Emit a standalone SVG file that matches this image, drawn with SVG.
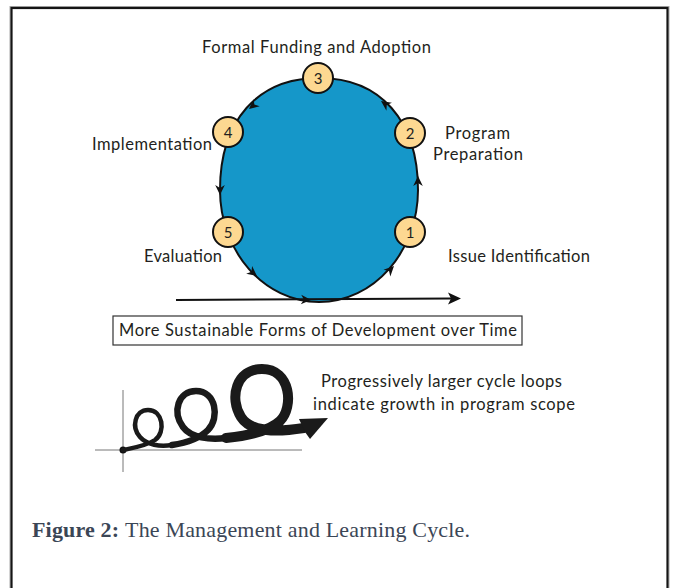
<svg xmlns="http://www.w3.org/2000/svg" xmlns:xlink="http://www.w3.org/1999/xlink" width="675" height="588" viewBox="0 0 675 588">
<style>
.lbl{font-family:Lato,"Open Sans","Liberation Sans",sans-serif;font-size:16.5px;fill:#231f20}
.num{font-family:Lato,"Open Sans","Liberation Sans",sans-serif;font-size:15px;fill:#231f20;text-anchor:middle}
.step{fill:#fdd891;stroke:#111;stroke-width:2}
.cap{font-family:"Liberation Serif",serif;font-size:22px;fill:#3b4656}
.curl{fill:none;stroke:#1a1a1a;stroke-linecap:round;stroke-linejoin:round}
</style>
<defs>
<path id="ah" d="M0,0 L-10,-4.8 L-7,0 L-10,4.8 Z" fill="#111"/>
</defs>
<rect width="675" height="588" fill="#fff"/>
<rect x="10" y="6.5" width="659" height="600" fill="none" stroke="#aaa" stroke-width="1"/>
<rect x="11.5" y="8" width="656" height="600" fill="none" stroke="#151515" stroke-width="2.2"/>

<g id="cycle">
<path d="M418,190 C418,120.6 380.4,78 319,78 C257.6,78 220,120.6 220,190 C220,251.6 264.3,302 319,302 C373.7,302 418,251.6 418,190 Z" fill="#1597c9" stroke="#111" stroke-width="2"/>
</g>

<g id="connectors">
<use xlink:href="#ah" transform="translate(418,176) rotate(-90)"/>
<use xlink:href="#ah" transform="translate(381,101) rotate(-145)"/>
<use xlink:href="#ah" transform="translate(249,109) rotate(140)"/>
<use xlink:href="#ah" transform="translate(220,195) rotate(90)"/>
<use xlink:href="#ah" transform="translate(257,276) rotate(38)"/>
<use xlink:href="#ah" transform="translate(311,300) rotate(3)"/>
<use xlink:href="#ah" transform="translate(394,266) rotate(-45)"/>
<line x1="176" y1="300" x2="452" y2="298.5" stroke="#111" stroke-width="2"/>
<path d="M461,298.5 L448,292.5 L451,298.5 L448,304.5 Z" fill="#111"/>
</g>

<g id="step3"><circle class="step" cx="318" cy="78" r="15"/><text class="num" x="318" y="83.5">3</text></g>
<g id="step4"><circle class="step" cx="228" cy="132" r="15"/><text class="num" x="228" y="137.5">4</text></g>
<g id="step2"><circle class="step" cx="410" cy="133" r="15"/><text class="num" x="410" y="138.5">2</text></g>
<g id="step5"><circle class="step" cx="228" cy="232" r="15"/><text class="num" x="228" y="237.5">5</text></g>
<g id="step1"><circle class="step" cx="410" cy="232" r="15"/><text class="num" x="410" y="237.5">1</text></g>

<g id="labels">
<text class="lbl" x="202" y="53" textLength="229">Formal Funding and Adoption</text>
<text class="lbl" x="92" y="150" textLength="120">Implementation</text>
<text class="lbl" x="445" y="139" textLength="65">Program</text>
<text class="lbl" x="433" y="160" textLength="90">Preparation</text>
<text class="lbl" x="144" y="262" textLength="78">Evaluation</text>
<text class="lbl" x="448" y="262" textLength="142">Issue Identification</text>
</g>

<g id="timebox">
<rect x="113" y="316" width="409" height="29" fill="#fff" stroke="#333" stroke-width="1.2"/>
<text class="lbl" x="119" y="336" textLength="398">More Sustainable Forms of Development over Time</text>
</g>

<g id="spiral">
<line x1="123" y1="390" x2="123" y2="472" stroke="#777" stroke-width="1"/>
<line x1="95" y1="450" x2="302" y2="450" stroke="#777" stroke-width="1"/>
<circle cx="123" cy="450" r="3.5" fill="#111"/>
<path class="curl" stroke-width="4.5" d="M123,450 C133,448 146,446 155,440 C166,432 163,410 148,410 C135,410 131,427 140,437 C147,445 160,447 172,445"/>
<path class="curl" stroke-width="6.5" d="M172,445 C186,443 200,438 208,430 C220,418 216,391 196,391 C178,391 172,412 183,427 C191,438 210,440 226,438"/>
<path class="curl" stroke-width="10" d="M226,438 C246,436 268,432 280,421 C294,407 291,369 262,369 C236,369 229,398 241,417 C251,433 278,432 304,428"/>
<path d="M299,419 L328,418 L310,439 L305,432 Z" fill="#1a1a1a"/>
<text class="lbl" x="321" y="387" textLength="241">Progressively larger cycle loops</text>
<text class="lbl" x="313" y="410" textLength="262">indicate growth in program scope</text>
</g>

<g id="caption">
<text class="cap" x="32" y="537" font-weight="bold" textLength="87">Figure 2:</text>
<text class="cap" x="125" y="537" textLength="345">The Management and Learning Cycle.</text>
</g>
</svg>
